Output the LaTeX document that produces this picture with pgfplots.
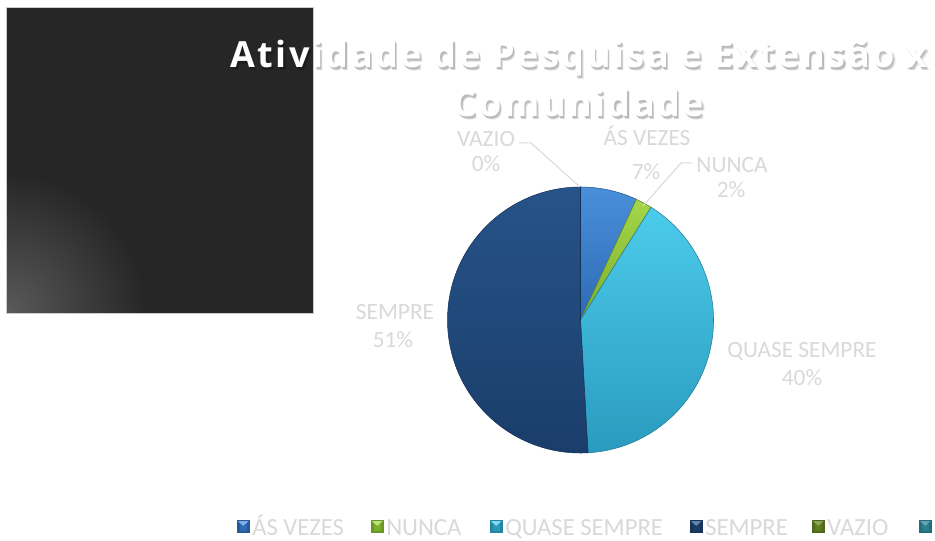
\documentclass[border=0pt]{standalone}
\usepackage{pgfplots}
\pgfplotsset{compat=1.18}
\usepackage{fontspec}
\setmainfont{Carlito}
\newfontfamily\titlefont{Open Sans}[LetterSpace=7]
\definecolor{bgdark}{HTML}{262626}
\definecolor{glow}{HTML}{5A5A5A}
\definecolor{lab}{HTML}{D9D9D9}
\definecolor{c1t}{HTML}{4A8FDA}\definecolor{c1b}{HTML}{2E6AB4}
\definecolor{c2t}{HTML}{A4D64A}\definecolor{c2b}{HTML}{7CB02C}
\definecolor{c3t}{HTML}{4CCBEA}\definecolor{c3b}{HTML}{2A9BBE}
\definecolor{c4t}{HTML}{265389}\definecolor{c4b}{HTML}{1A3D6A}
\definecolor{l5}{HTML}{5E7D1E}\definecolor{l6}{HTML}{2A7F90}
\newcommand{\lfont}{\fontsize{17.5}{20}\selectfont}
\newcommand{\gfont}{\fontsize{18.5}{20}\selectfont}
\newcommand{\tfont}{\titlefont\bfseries\fontsize{27}{32}\selectfont}
\newcommand{\titleshadow}[3]{%
\node[anchor=base,font=\tfont,text=black,opacity=#3] at (axis cs:#1,#2) {Atividade de Pesquisa e Extensão x};}
\newcommand{\titleshadowb}[3]{%
\node[anchor=base,font=\tfont,text=black,opacity=#3] at (axis cs:#1,#2) {Comunidade};}
\newcommand{\legentry}[6]{%
\fill[#4!85!black] (axis cs:#1,520) rectangle (axis cs:#1+12.5,532.5);
\fill[#3!80!white] (axis cs:#1+1,521) -- (axis cs:#1+11.5,521) -- (axis cs:#1+6.25,526.5) -- cycle;
\fill[#4] (axis cs:#1+2.5,524) rectangle (axis cs:#1+10,530.5);
\fill[#3!70!white] (axis cs:#1+2,521.5) -- (axis cs:#1+10.5,521.5) -- (axis cs:#1+6.25,526) -- cycle;
\node[anchor=base west,inner sep=0pt,text=lab,font=\gfont] at (axis cs:#2,535) {#5};}
\begin{document}
\begin{tikzpicture}
\begin{axis}[width=701.25pt,height=405.75pt,scale only axis,
  xmin=0,xmax=935,ymin=0,ymax=541,y dir=reverse,hide axis,clip=false]
% background
\fill[white] (axis cs:0,0) rectangle (axis cs:935,541);
% dark square with glow
\fill[bgdark] (axis cs:6,7) rectangle (axis cs:313,313);
\begin{scope}
\clip (axis cs:6,7) rectangle (axis cs:313,313);
\shade[inner color=glow,outer color=bgdark] (axis cs:6,313) circle[radius=105pt];
\end{scope}
\draw[black!20,line width=0.4pt] (axis cs:6,7) rectangle (axis cs:313,313);
% title
\titleshadow{581.5}{71}{0.07}\titleshadow{581}{70.2}{0.10}\titleshadow{580.2}{69.4}{0.12}
\titleshadowb{581.5}{120}{0.07}\titleshadowb{581}{119.2}{0.10}\titleshadowb{580.2}{118.4}{0.12}
\node[anchor=base,font=\tfont,text=white] at (axis cs:579,68) {Atividade de Pesquisa e Extensão x};
\node[anchor=base,font=\tfont,text=white] at (axis cs:579,117) {Comunidade};
% pie: values 6.9, 2.0, 40.2, 50.9, 0 (percent), clockwise from top
\path[draw=c1b!80!black,line width=0.4pt,top color=c1t,bottom color=c1b] (axis cs:580.5,320) -- ++(90:99.75pt) arc[start angle=90,end angle={90-3.6*6.9},radius=99.75pt] -- cycle;
\path[draw=c2b!80!black,line width=0.4pt,top color=c2t,bottom color=c2b] (axis cs:580.5,320) -- ++({90-3.6*6.9}:99.75pt) arc[start angle={90-3.6*6.9},end angle={90-3.6*(6.9+2.0)},radius=99.75pt] -- cycle;
\path[draw=c3b!80!black,line width=0.4pt,top color=c3t,bottom color=c3b] (axis cs:580.5,320) -- ++({90-3.6*(6.9+2.0)}:99.75pt) arc[start angle={90-3.6*(6.9+2.0)},end angle={90-3.6*(6.9+2.0+40.2)},radius=99.75pt] -- cycle;
\path[draw=c4b!80!black,line width=0.4pt,top color=c4t,bottom color=c4b] (axis cs:580.5,320) -- ++({90-3.6*(6.9+2.0+40.2)}:99.75pt) arc[start angle={90-3.6*(6.9+2.0+40.2)},end angle={90-3.6*(6.9+2.0+40.2+50.9)},radius=99.75pt] -- cycle;
% leader lines
\draw[lab,line width=0.75pt] (axis cs:519,143) -- (axis cs:531,143) -- (axis cs:580,187);
\draw[lab,line width=0.75pt] (axis cs:692,163) -- (axis cs:681,163) -- (axis cs:643,206);
% data labels
\node[anchor=base,text=lab,font=\lfont] at (axis cs:486,147) {VAZIO};
\node[anchor=base,text=lab,font=\lfont] at (axis cs:486,172) {0\%};
\node[anchor=base,text=lab,font=\lfont] at (axis cs:647,146) {ÁS VEZES};
\node[anchor=base,text=lab,font=\lfont] at (axis cs:646,180) {7\%};
\node[anchor=base,text=lab,font=\lfont] at (axis cs:732,173) {NUNCA};
\node[anchor=base,text=lab,font=\lfont] at (axis cs:731,198) {2\%};
\node[anchor=base,text=lab,font=\lfont] at (axis cs:802,358) {QUASE SEMPRE};
\node[anchor=base,text=lab,font=\lfont] at (axis cs:802,386) {40\%};
\node[anchor=base,text=lab,font=\lfont] at (axis cs:395,320) {SEMPRE};
\node[anchor=base,text=lab,font=\lfont] at (axis cs:393,348) {51\%};
% legend
\legentry{237}{252}{c1t}{c1b}{ÁS VEZES}{}
\legentry{371}{386}{c2t}{c2b}{NUNCA}{}
\legentry{490}{505}{c3t}{c3b}{QUASE SEMPRE}{}
\legentry{690}{705}{c4t}{c4b}{SEMPRE}{}
\legentry{812}{827}{l5}{l5}{VAZIO}{}
\legentry{919}{933}{l6}{l6}{}{}
\end{axis}
\pgfresetboundingbox
\path (current axis.south west) rectangle (current axis.north east);
\end{tikzpicture}
\end{document}
